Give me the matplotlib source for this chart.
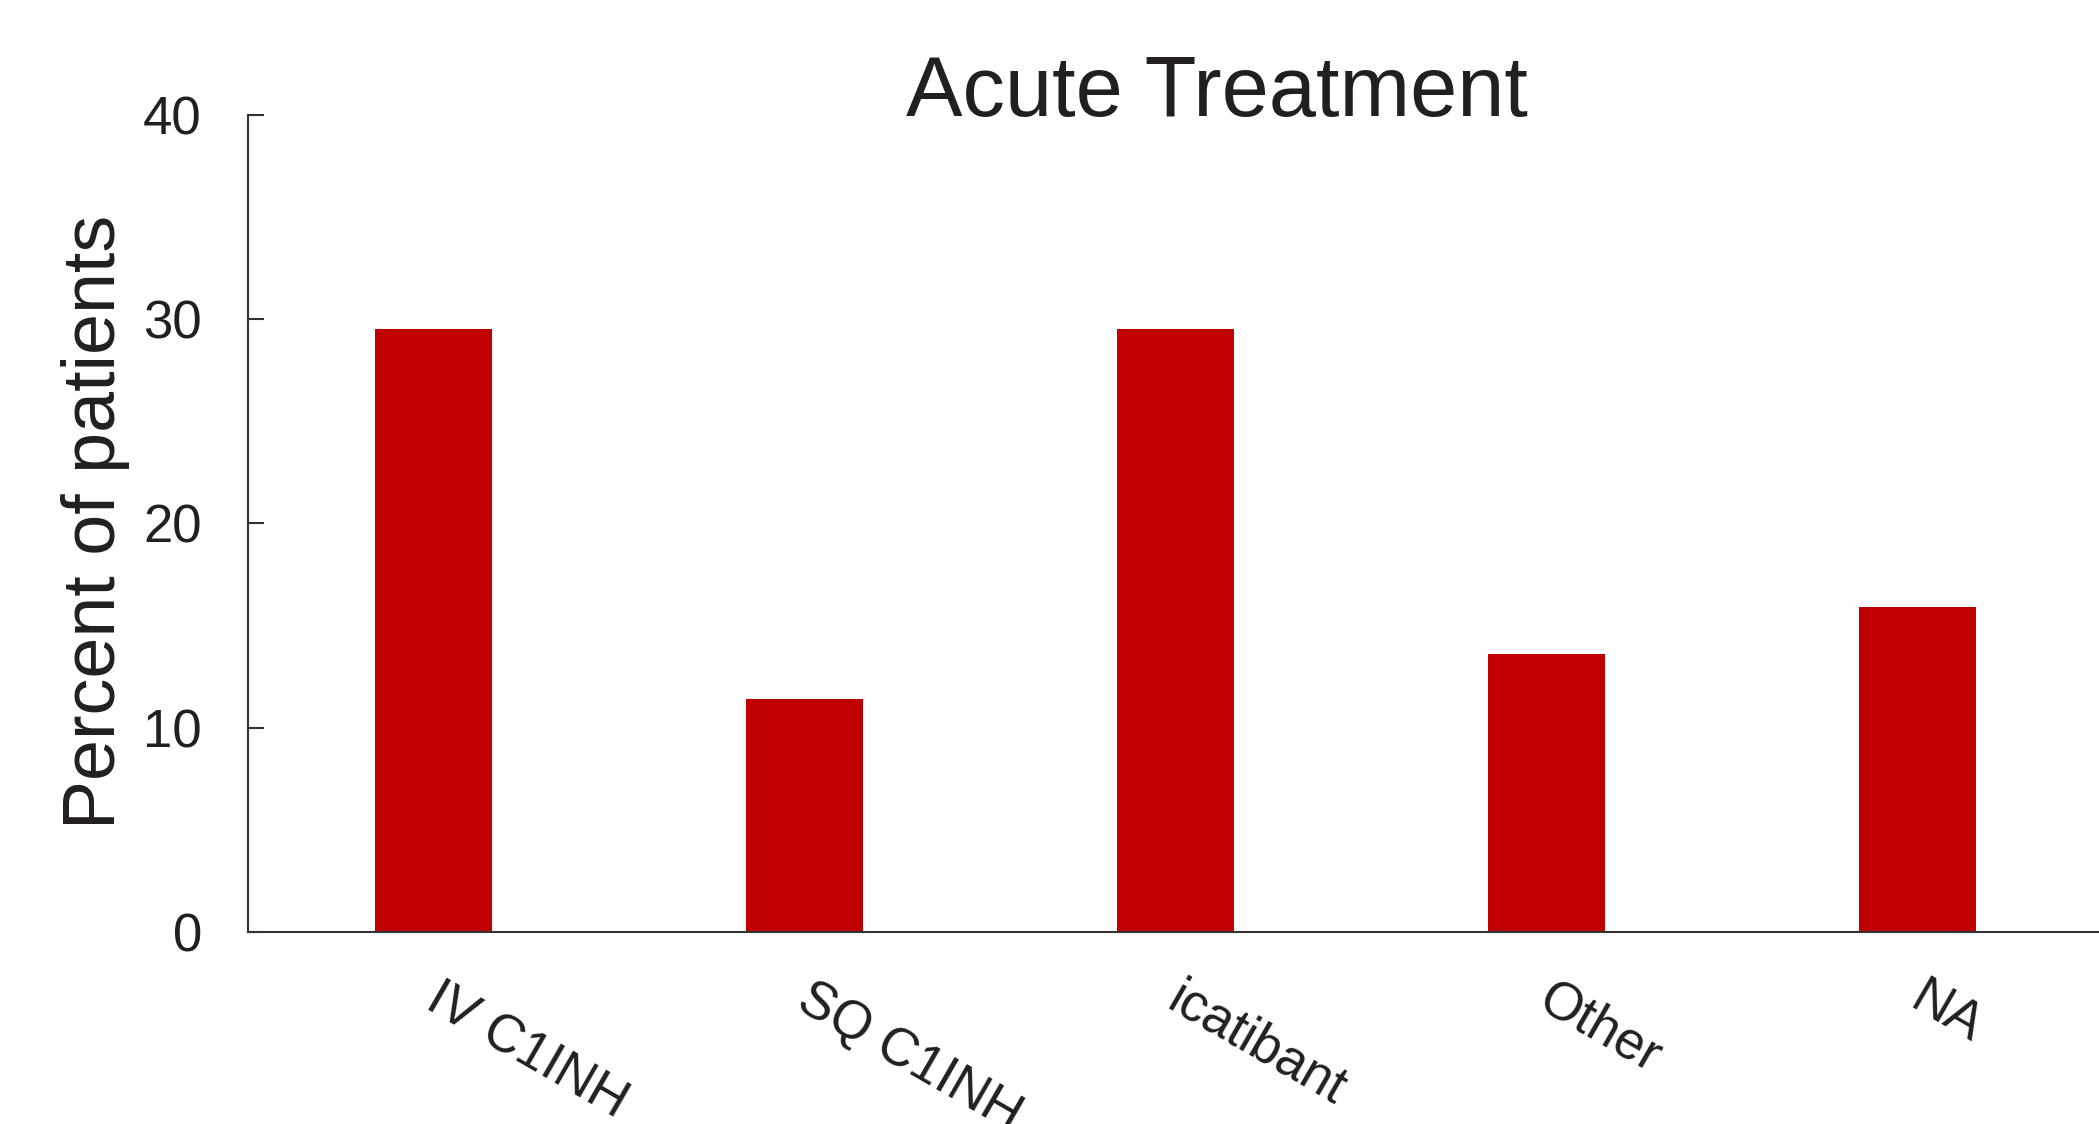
import matplotlib
matplotlib.use("Agg")
import matplotlib.pyplot as plt
from matplotlib.transforms import ScaledTranslation

categories = ["IV C1INH", "SQ C1INH", "icatibant", "Other", "NA"]
percent = [29.5, 11.4, 29.5, 13.6, 15.9]
yticks = [0, 10, 20, 30, 40]

plt.rcParams['font.family'] = ['Liberation Sans', 'DejaVu Sans']
text_color = '#231F20'
bar_color = '#C00000'

fig = plt.figure(figsize=(20.99, 11.24), dpi=100)
ax = fig.add_axes([0.118, 0.1711, 0.882, 0.7265])

x = list(range(1, len(categories) + 1))
ax.bar(x, percent, width=0.315, color=bar_color, edgecolor='none')

ax.set_xlim(0.5, 5.49)
ax.set_ylim(0, 40)
ax.set_yticks(yticks)
ax.set_yticklabels([str(v) for v in yticks], fontsize=38, color=text_color)
ax.set_xticks(x)
ax.set_xticklabels([])
ax.tick_params(axis='x', length=0)

label_trans = ax.get_xaxis_transform() + ScaledTranslation(0.095, -0.42, fig.dpi_scale_trans)
for xi, cat in zip(x, categories):
    ax.text(xi, 0, cat, transform=label_trans, fontsize=38, color=text_color,
            rotation=-30, ha='left', va='top', rotation_mode='anchor', clip_on=False)

for s in ['top', 'right']:
    ax.spines[s].set_visible(False)
for s in ['left', 'bottom']:
    ax.spines[s].set_color('#333333')
    ax.spines[s].set_linewidth(1.5)

ax.tick_params(axis='y', direction='in', length=11.5, width=1.5, color='#333333', pad=33)

fig.text(0.029, 0.5356, "Percent of patients", rotation=90, ha='left', va='center',
         fontsize=53, color=text_color)
fig.text(0.580, 0.8965, "Acute Treatment", ha='center', va='baseline',
         fontsize=61, color=text_color)

fig.savefig("out.png", dpi=100)
